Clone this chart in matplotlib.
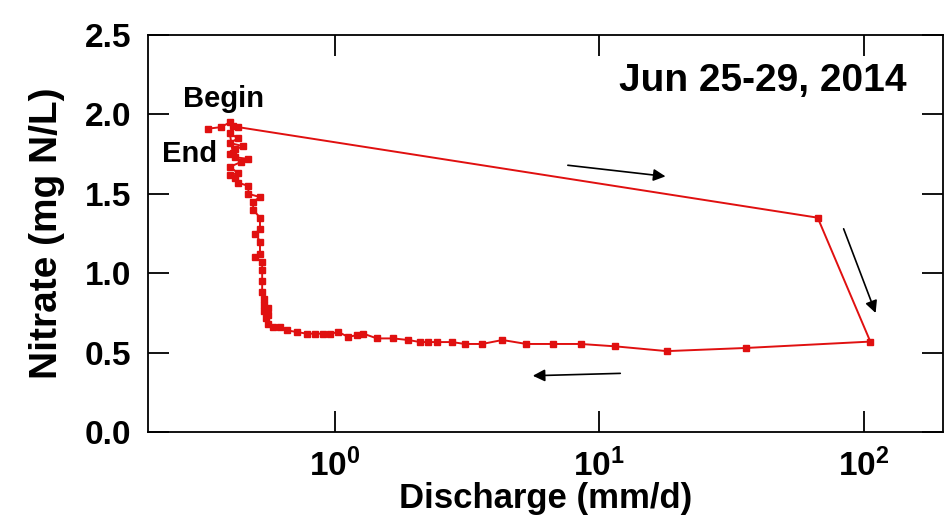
import matplotlib
matplotlib.use("Agg")
import matplotlib.pyplot as plt

plt.rcParams["font.family"] = ["Liberation Sans", "DejaVu Sans"]
plt.rcParams["font.weight"] = "bold"

# discharge (mm/d) and nitrate (mg N/L), in time order
discharge = [0.33, 0.37, 0.40, 0.41, 0.43,
             67.0, 106.0, 36.0, 18.0, 11.5, 8.5, 6.7, 5.3, 4.3, 3.6, 3.1,
             2.77, 2.43, 2.25, 2.10, 1.89, 1.66, 1.44, 1.28, 1.21, 1.12,
             1.03, 0.96, 0.90, 0.84, 0.78, 0.72, 0.66, 0.62, 0.58, 0.56,
             0.55, 0.56, 0.54, 0.56, 0.54, 0.54, 0.53, 0.53, 0.53, 0.53,
             0.50, 0.52, 0.52, 0.50, 0.52, 0.52, 0.49, 0.49, 0.52, 0.47,
             0.47, 0.43, 0.42, 0.40, 0.43, 0.40, 0.44, 0.47, 0.42, 0.40,
             0.42, 0.45, 0.40, 0.43, 0.40, 0.41]
nitrate = [1.91, 1.92, 1.95, 1.93, 1.92,
           1.35, 0.57, 0.53, 0.51, 0.54, 0.555, 0.555, 0.555, 0.58, 0.555, 0.555,
           0.567, 0.567, 0.567, 0.567, 0.58, 0.59, 0.59, 0.62, 0.61, 0.60,
           0.63, 0.62, 0.62, 0.62, 0.62, 0.63, 0.64, 0.66, 0.66, 0.68,
           0.72, 0.74, 0.76, 0.78, 0.80, 0.84, 0.88, 0.95, 1.02, 1.07,
           1.10, 1.12, 1.20, 1.25, 1.28, 1.35, 1.40, 1.45, 1.48, 1.50,
           1.55, 1.57, 1.60, 1.62, 1.63, 1.67, 1.70, 1.72, 1.73, 1.75,
           1.78, 1.80, 1.82, 1.85, 1.88, 1.76]

y_ticks = [0.0, 0.5, 1.0, 1.5, 2.0, 2.5]
y_ticklabels = ["0.0", "0.5", "1.0", "1.5", "2.0", "2.5"]
x_ticks = [1, 10, 100]

# arrows: (start, end) in data units
arrows = [((7.6, 1.68), (17.8, 1.61)),
          ((84.0, 1.28), (111.0, 0.75)),
          ((12.0, 0.37), (5.6, 0.355))]

fig = plt.figure(figsize=(9.45, 5.27), dpi=100)
ax = fig.add_axes([0.1566, 0.180, 0.8415, 0.7536])

ax.plot(discharge, nitrate, color="#e01010", lw=1.4,
        marker="s", ms=4, mfc="#e01010", mec="#e01010")

for (x0, y0), (x1, y1) in arrows:
    ax.annotate("", xy=(x1, y1), xytext=(x0, y0),
                arrowprops=dict(arrowstyle="-|>", color="black", lw=1.2,
                                mutation_scale=18, shrinkA=0, shrinkB=0))

ax.set_xscale("log")
ax.set_xlim(0.196, 200)
ax.set_ylim(0, 2.5)
ax.set_yticks(y_ticks)
ax.set_yticklabels(y_ticklabels)
ax.set_xticks(x_ticks)
ax.minorticks_off()
ax.tick_params(direction="in", length=15, width=1.3, top=True, right=True)
ax.tick_params(axis="y", labelsize=24, pad=12)
ax.tick_params(axis="x", labelsize=24, pad=12)
for s in ax.spines.values():
    s.set_linewidth(1.3)

ax.set_xlabel("Discharge (mm/d)", fontsize=25, fontweight="bold", labelpad=-1)
ax.set_ylabel("Nitrate (mg N/L)", fontsize=28, fontweight="bold", labelpad=14)

ax.text(0.954, 0.885, "Jun 25-29, 2014", transform=ax.transAxes, ha="right",
        va="center", fontsize=28, fontweight="bold")
ax.text(0.265, 2.10, "Begin", fontsize=21, fontweight="bold", va="center")
ax.text(0.221, 1.75, "End", fontsize=21, fontweight="bold", va="center")

fig.savefig("out.png", dpi=100)
